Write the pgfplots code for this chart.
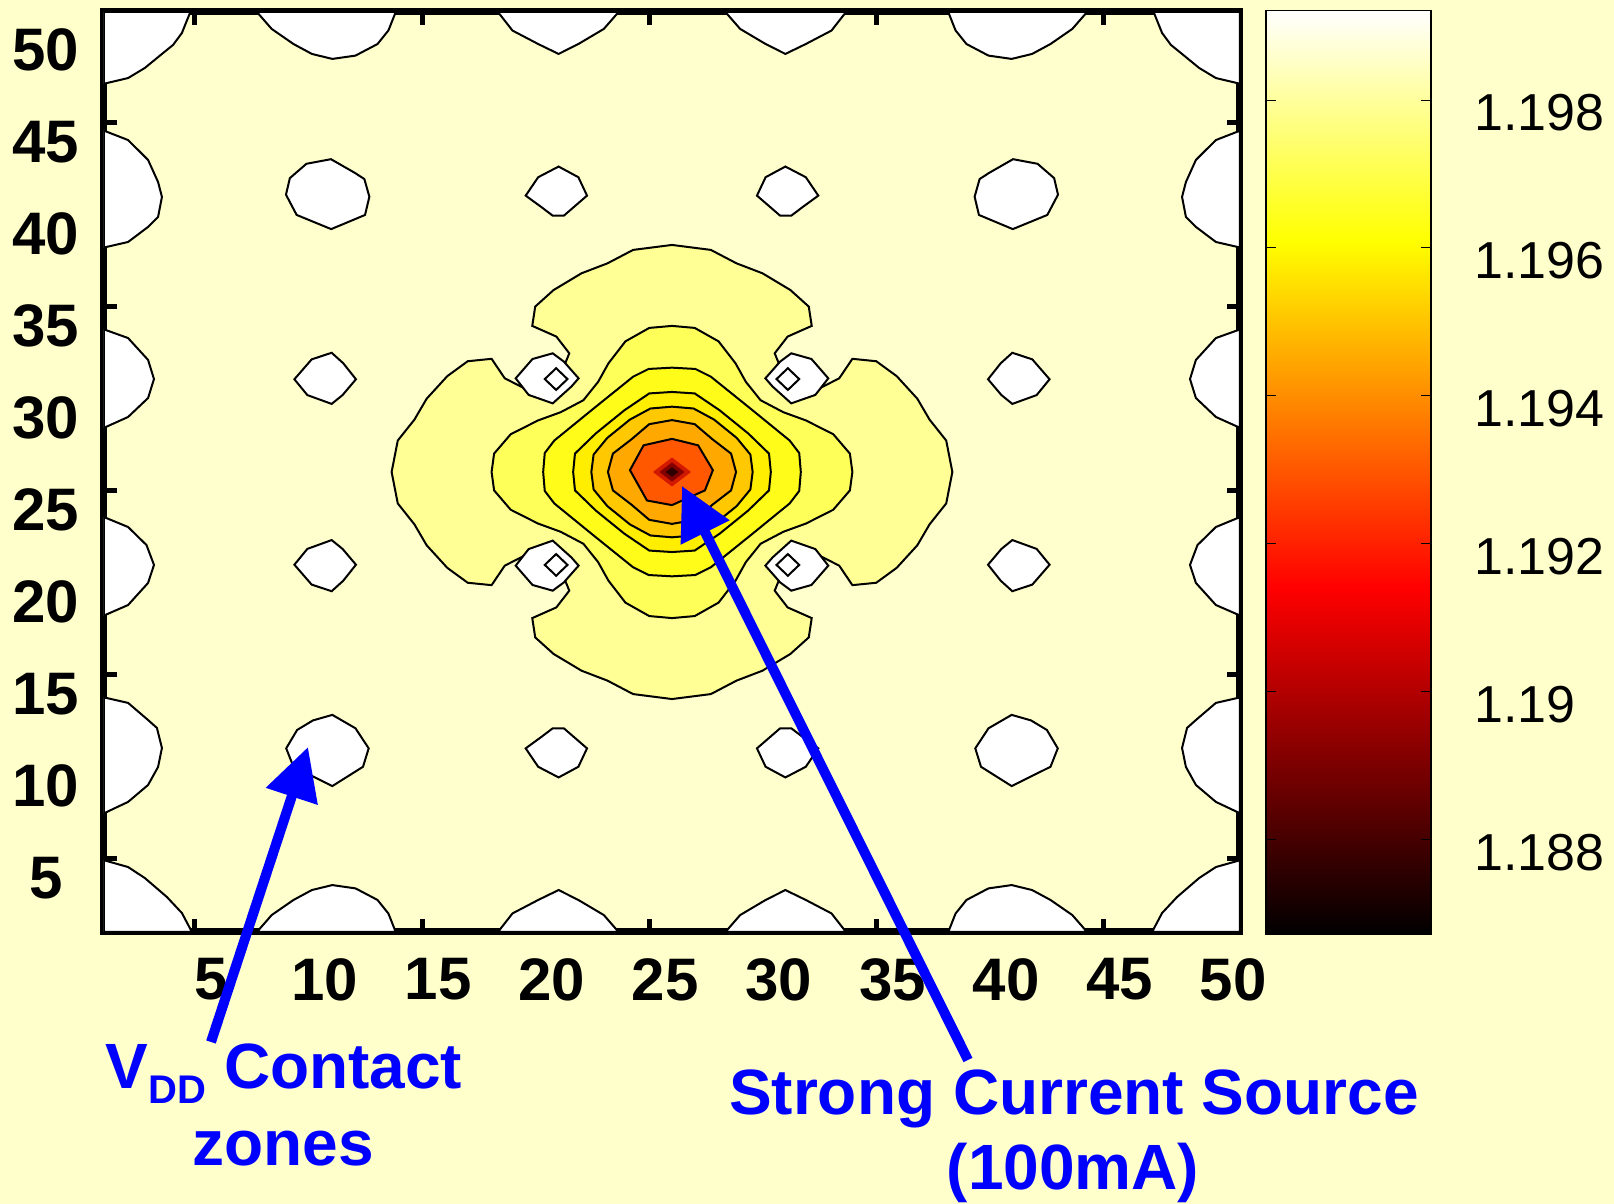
\documentclass[border=0pt]{standalone}
\usepackage{pgfplots}
\pgfplotsset{compat=1.18}
\usepackage{fontspec}
\setmainfont{Liberation Sans}
\usetikzlibrary{arrows.meta}
\definecolor{slidebg}{RGB}{255,255,204}
\definecolor{mainfill}{RGB}{255,255,205}
\definecolor{lvA}{RGB}{255,255,150}
\definecolor{lvB}{RGB}{255,255,90}
\definecolor{lvC}{RGB}{255,252,25}
\definecolor{lvD}{RGB}{255,238,0}
\definecolor{lvE}{RGB}{255,200,0}
\definecolor{lvF}{RGB}{255,168,0}
\definecolor{lvG}{RGB}{255,88,0}
\definecolor{lvH}{RGB}{210,25,0}
\definecolor{lvI}{RGB}{130,0,0}
\definecolor{lvJ}{RGB}{45,0,0}
\definecolor{annblue}{RGB}{0,0,255}
\tikzset{blob/.style={fill=white,draw=black,line width=1pt},
         cnt/.style={draw=black,line width=1pt}}
\begin{document}
\begin{tikzpicture}
\useasboundingbox (-52pt,-136pt) rectangle (755pt,466pt);
\fill[slidebg] (-52pt,-136pt) rectangle (755pt,466pt);
\begin{axis}[
  at={(0pt,0pt)}, anchor=south west,
  scale only axis, width=568pt, height=460pt,
  xmin=1, xmax=51, ymin=1, ymax=51,
  xtick={5,10,...,50}, ytick={5,10,...,50},
  axis background/.style={fill=mainfill},
  axis line style={line width=3.5pt},
  tick align=inside, major tick length=6.5pt,
  major tick style={line width=2.5pt, black},
  tick label style={font=\bfseries\fontsize{30}{30}\selectfont},
  xticklabel style={anchor=north, inner sep=0pt, yshift=-13pt, xshift=8pt},
  yticklabel style={anchor=center, inner sep=0pt, xshift=-29pt, yshift=-9.75pt},
  /pgf/number format/assume math mode=true,
  colormap={mhot}{rgb255(0cm)=(0,0,0); rgb255(3cm)=(255,0,0); rgb255(6cm)=(255,255,0); rgb255(8cm)=(255,255,255)},
  point meta min=1.18672, point meta max=1.19921,
  colorbar,
  colorbar/width=82.5pt,
  colorbar shift/.style={},
  colorbar style={
    at={(parent axis.north east)}, anchor=north west, xshift=13pt, yshift=0.75pt,
    scale only axis, width=82.5pt, height=461.75pt,
    axis background/.style={},
    axis line style={line width=0.6pt},
    xtick=\empty,
    ytick={1.188,1.19,1.192,1.194,1.196,1.198},
    yticklabels={1.188,1.19,1.192,1.194,1.196,1.198},
    yticklabel pos=right, ytick pos=both,
    tick align=inside, major tick length=5pt,
    major tick style={line width=0.4pt, black},
    every tick label/.style={font=\fontsize{26}{26}\selectfont},
    every y tick label/.style={anchor=west, inner sep=0pt, xshift=21.5pt, yshift=-6.5pt},
  },
]
% ---- corner blobs
\addplot[blob] coordinates {(1,47.1) (2.06,47.41) (2.8,47.96) (3.6,48.77) (4.04,49.21) (4.43,49.86) (4.8,51) (1,51)} -- cycle;
\addplot[blob] coordinates {(1,4.9) (2.06,4.53) (2.8,3.93) (3.77,2.9) (4.43,2.03) (4.87,1) (1,1)} -- cycle;
\addplot[blob] coordinates {(51,47.1) (49.94,47.41) (49.2,47.96) (48.4,48.77) (47.96,49.21) (47.57,49.86) (47.2,51) (51,51)} -- cycle;
\addplot[blob] coordinates {(51,4.9) (49.94,4.53) (49.2,3.93) (48.23,2.9) (47.57,2.03) (47.13,1) (51,1)} -- cycle;
% ---- left edge
\addplot[blob] coordinates {(1,44.55) (2.06,44.04) (2.94,42.96) (3.38,41.76) (3.55,40.95) (3.38,39.86) (2.94,39.32) (2.06,38.5) (1,38.2)} -- cycle;
\addplot[blob] coordinates {(1,33.75) (2.06,33.28) (2.94,32.09) (3.2,31.05) (2.94,30.02) (2.06,28.99) (1,28.4)} -- cycle;
\addplot[blob] coordinates {(1,23.55) (2.06,23.01) (2.87,22.03) (3.2,20.95) (2.94,19.97) (2.06,18.77) (1,18.2)} -- cycle;
\addplot[blob] coordinates {(1,13.75) (2.06,13.45) (2.94,12.52) (3.33,12.09) (3.55,11.0) (3.38,9.97) (2.94,8.99) (2.06,8.07) (1,7.45)} -- cycle;
% ---- right edge
\addplot[blob] coordinates {(51,44.55) (49.94,44.04) (49.06,42.96) (48.62,41.76) (48.45,40.95) (48.62,39.86) (49.06,39.32) (49.94,38.5) (51,38.2)} -- cycle;
\addplot[blob] coordinates {(51,33.75) (49.94,33.28) (49.06,32.09) (48.8,31.05) (49.06,30.02) (49.94,28.99) (51,28.4)} -- cycle;
\addplot[blob] coordinates {(51,23.55) (49.94,23.01) (49.13,22.03) (48.8,20.95) (49.06,19.97) (49.94,18.77) (51,18.2)} -- cycle;
\addplot[blob] coordinates {(51,13.75) (49.94,13.45) (49.06,12.52) (48.67,12.09) (48.45,11.0) (48.62,9.97) (49.06,8.99) (49.94,8.07) (51,7.45)} -- cycle;
% ---- bottom edge
\addplot[blob] coordinates {(7.73,1) (8.38,1.92) (9.34,2.74) (10.15,3.28) (11.05,3.55) (12.07,3.37) (13.04,2.74) (13.52,2.0) (13.84,1)} -- cycle;
\addplot[blob] coordinates {(18.34,1) (18.98,2.01) (20.11,2.74) (21.01,3.28) (21.88,2.74) (23.0,1.92) (23.65,1)} -- cycle;
\addplot[blob] coordinates {(28.35,1) (29.0,1.92) (30.12,2.74) (30.99,3.28) (31.89,2.74) (33.02,2.01) (33.66,1)} -- cycle;
\addplot[blob] coordinates {(38.16,1) (38.48,2.0) (38.96,2.74) (39.93,3.37) (40.95,3.55) (41.85,3.28) (42.66,2.74) (43.62,1.92) (44.27,1)} -- cycle;
% ---- top edge
\addplot[blob] coordinates {(7.73,51) (8.38,50.08) (9.34,49.26) (10.15,48.72) (11.05,48.45) (12.07,48.63) (13.04,49.26) (13.52,50.0) (13.84,51)} -- cycle;
\addplot[blob] coordinates {(18.34,51) (18.98,49.99) (20.11,49.26) (21.01,48.72) (21.88,49.26) (23.0,50.08) (23.65,51)} -- cycle;
\addplot[blob] coordinates {(28.35,51) (29.0,50.08) (30.12,49.26) (30.99,48.72) (31.89,49.26) (33.02,49.99) (33.66,51)} -- cycle;
\addplot[blob] coordinates {(38.16,51) (38.48,50.0) (38.96,49.26) (39.93,48.63) (40.95,48.45) (41.85,48.72) (42.66,49.26) (43.62,50.08) (44.27,51)} -- cycle;
% ---- interior large blobs
\addplot[blob] coordinates {(10.99,43.0) (12.05,42.25) (12.46,41.92) (12.68,40.96) (12.49,39.97) (11.0,39.2) (9.48,39.97) (9.01,41.07) (9.18,41.97) (9.91,42.75)} -- cycle;
\addplot[blob] coordinates {(41.01,43.0) (39.95,42.25) (39.54,41.92) (39.32,40.96) (39.51,39.97) (41.0,39.2) (42.52,39.97) (42.99,41.07) (42.82,41.97) (42.09,42.75)} -- cycle;
\addplot[blob] coordinates {(11.05,12.8) (12.07,12.07) (12.65,10.98) (12.4,9.98) (11.05,8.93) (9.34,9.98) (9.02,10.98) (9.5,11.98) (10.2,12.5)} -- cycle;
\addplot[blob] coordinates {(40.95,12.8) (39.93,12.07) (39.35,10.98) (39.6,9.98) (40.95,8.93) (42.66,9.98) (42.98,10.98) (42.5,11.98) (41.8,12.5)} -- cycle;
% ---- interior medium blobs
\addplot[blob] coordinates {(20.75,12.07) (21.24,12.07) (22.26,10.98) (21.88,9.98) (21.01,9.4) (20.11,9.98) (19.56,10.98) (20.27,11.62)} -- cycle;
\addplot[blob] coordinates {(31.25,12.07) (30.76,12.07) (29.74,10.98) (30.12,9.98) (30.99,9.4) (31.89,9.98) (32.44,10.98) (31.73,11.62)} -- cycle;
\addplot[blob] coordinates {(20.75,39.93) (21.24,39.93) (22.26,41.02) (21.88,42.02) (21.01,42.6) (20.11,42.02) (19.56,41.02) (20.27,40.38)} -- cycle;
\addplot[blob] coordinates {(31.25,39.93) (30.76,39.93) (29.74,41.02) (30.12,42.02) (30.99,42.6) (31.89,42.02) (32.44,41.02) (31.73,40.38)} -- cycle;
% ---- interior small blobs
\addplot[blob] coordinates {(11.02,32.48) (11.53,31.91) (12.09,31.04) (11.5,30.18) (11.02,29.7) (9.95,30.18) (9.38,31.04) (10.14,32.12)} -- cycle;
\addplot[blob] coordinates {(11.02,19.52) (11.53,20.09) (12.09,20.96) (11.5,21.82) (11.02,22.3) (9.95,21.82) (9.38,20.96) (10.14,19.88)} -- cycle;
\addplot[blob] coordinates {(40.98,32.48) (40.47,31.91) (39.91,31.04) (40.5,30.18) (40.98,29.7) (42.05,30.18) (42.62,31.04) (41.86,32.12)} -- cycle;
\addplot[blob] coordinates {(40.98,19.52) (40.47,20.09) (39.91,20.96) (40.5,21.82) (40.98,22.3) (42.05,21.82) (42.62,20.96) (41.86,19.88)} -- cycle;
% ---- central cross (pale)
\addplot[cnt, fill=lvA] coordinates {
 (26,38.34) (27.71,38.07) (28.84,37.34) (29.98,36.8) (31.21,35.89) (32.02,34.99) (32.15,33.94) (31.09,33.36) (30.52,32.45) (31,31) (32.45,30.52) (33.36,31.09) (33.94,32.15) (34.99,32.02) (35.89,31.21) (36.8,29.98) (37.34,28.84) (38.07,27.71) (38.34,26)
 (38.07,24.29) (37.34,23.16) (36.8,22.02) (35.89,20.79) (34.99,19.98) (33.94,19.85) (33.36,20.91) (32.45,21.48) (31,21) (30.52,19.55) (31.09,18.64) (32.15,18.06) (32.02,17.01) (31.21,16.11) (29.98,15.2) (28.84,14.66) (27.71,13.93) (26,13.66)
 (24.29,13.93) (23.16,14.66) (22.02,15.2) (20.79,16.11) (19.98,17.01) (19.85,18.06) (20.91,18.64) (21.48,19.55) (21,21) (19.55,21.48) (18.64,20.91) (18.06,19.85) (17.01,19.98) (16.11,20.79) (15.2,22.02) (14.66,23.16) (13.93,24.29) (13.66,26)
 (13.93,27.71) (14.66,28.84) (15.2,29.98) (16.11,31.21) (17.01,32.02) (18.06,32.15) (18.64,31.09) (19.55,30.52) (21,31) (21.48,32.45) (20.91,33.36) (19.85,33.94) (19.98,34.99) (20.79,35.89) (22.02,36.8) (23.16,37.34) (24.29,38.07)} -- cycle;
% ---- level B
\addplot[cnt, fill=lvB] coordinates {
 (26,33.94) (27,33.83) (28.05,33.1) (28.8,31.9) (29.25,30.9) (29.9,29.9) (30.9,29.25) (31.9,28.8) (33.1,28.05) (33.83,27) (33.94,26)
 (33.83,25) (33.1,23.95) (31.9,23.2) (30.9,22.75) (29.9,22.1) (29.25,21.1) (28.8,20.1) (28.05,18.9) (27,18.17) (26,18.06)
 (25,18.17) (23.95,18.9) (23.2,20.1) (22.75,21.1) (22.1,22.1) (21.1,22.75) (20.1,23.2) (18.9,23.95) (18.17,25) (18.06,26)
 (18.17,27) (18.9,28.05) (20.1,28.8) (21.1,29.25) (22.1,29.9) (22.75,30.9) (23.2,31.9) (23.95,33.1) (25,33.83)} -- cycle;
% ---- level C
\addplot[cnt, fill=lvC] coordinates {
 (26,31.67) (27.03,31.6) (27.71,31.18) (29.45,29.45) (31.18,27.71) (31.6,27.03) (31.67,26) (31.6,24.97) (31.18,24.29) (29.45,22.55) (27.71,20.82) (27.03,20.4) (26,20.33) (24.97,20.4) (24.29,20.82) (22.55,22.55) (20.82,24.29) (20.4,24.97) (20.33,26) (20.4,27.03) (20.82,27.71) (22.55,29.45) (24.29,31.18) (24.97,31.6)} -- cycle;
% ---- level D
\addplot[cnt, fill=lvD] coordinates {
 (26,30.35) (27,30.27) (28.1,29.35) (29.35,28.1) (30.27,27) (30.35,26) (30.27,25) (29.35,23.9) (28.1,22.65) (27,21.73) (26,21.65) (25,21.73) (23.9,22.65) (22.65,23.9) (21.73,25) (21.65,26) (21.73,27) (22.65,28.1) (23.9,29.35) (25,30.27)} -- cycle;
% ---- level E
\addplot[cnt, fill=lvE] coordinates {
 (26,29.55) (26.95,29.45) (27.85,28.85) (28.85,27.85) (29.45,26.95) (29.55,26) (29.45,25.05) (28.85,24.15) (27.85,23.15) (26.95,22.55) (26,22.45) (25.05,22.55) (24.15,23.15) (23.15,24.15) (22.55,25.05) (22.45,26) (22.55,26.95) (23.15,27.85) (24.15,28.85) (25.05,29.45)} -- cycle;
% ---- level F
\addplot[cnt, fill=lvF] coordinates {
 (26,28.82) (27,28.6) (27.78,27.78) (28.6,27) (28.82,26) (28.6,25) (27.78,24.22) (27,23.4) (26,23.18) (25,23.4) (24.22,24.22) (23.4,25) (23.18,26) (23.4,27) (24.22,27.78) (25,28.6)} -- cycle;
% ---- level G
\addplot[cnt, fill=lvG] coordinates {
 (26,27.8) (27.15,27.45) (27.8,26.1) (27.45,25.0) (26,24.2) (24.9,24.45) (24.15,26.1) (24.75,27.45)} -- cycle;
% ---- centre
\addplot[draw=none, fill=lvH] coordinates {(25.16,26) (26,26.79) (26.84,26) (26,25.21)} -- cycle;
\addplot[draw=none, fill=lvI] coordinates {(25.45,26) (26,26.52) (26.55,26) (26,25.48)} -- cycle;
\addplot[draw=none, fill=lvJ] coordinates {(25.72,26) (26,26.26) (26.28,26) (26,25.74)} -- cycle;
% ---- blobs next to the centre
\addplot[blob] coordinates {(19.12,31.09) (19.86,32.14) (20.75,32.45) (21.24,32.0) (21.89,31.09) (21.57,30.64) (20.75,29.73) (19.69,30.19)} -- cycle;
\addplot[blob] coordinates {(32.88,31.09) (32.14,32.14) (31.25,32.45) (30.76,32.0) (30.11,31.09) (30.43,30.64) (31.25,29.73) (32.31,30.19)} -- cycle;
\addplot[blob] coordinates {(19.12,20.91) (19.86,19.86) (20.75,19.55) (21.24,20.0) (21.89,20.91) (21.57,21.36) (20.75,22.27) (19.69,21.81)} -- cycle;
\addplot[blob] coordinates {(32.88,20.91) (32.14,19.86) (31.25,19.55) (30.76,20.0) (30.11,20.91) (30.43,21.36) (31.25,22.27) (32.31,21.81)} -- cycle;
\addplot[blob] coordinates {(20.4,31.05) (20.9,31.64) (21.4,31.05) (20.9,30.46)} -- cycle;
\addplot[blob] coordinates {(30.6,31.05) (31.1,31.64) (31.6,31.05) (31.1,30.46)} -- cycle;
\addplot[blob] coordinates {(20.4,20.95) (20.9,21.54) (21.4,20.95) (20.9,20.36)} -- cycle;
\addplot[blob] coordinates {(30.6,20.95) (31.1,21.54) (31.6,20.95) (31.1,20.36)} -- cycle;
\end{axis}
% ---- annotations
\node[anchor=base, text=annblue, font=\bfseries\fontsize{32}{32}\selectfont, inner sep=0pt] at (90pt,-78.5pt)
  {V\raisebox{-7.5pt}{\fontsize{20}{20}\selectfont DD} Contact};
\node[anchor=base, text=annblue, font=\bfseries\fontsize{32}{32}\selectfont, inner sep=0pt] at (89.5pt,-117pt) {zones};
\node[anchor=base, text=annblue, font=\bfseries\fontsize{32}{32}\selectfont, inner sep=0pt] at (485pt,-91.5pt) {Strong Current Source};
\node[anchor=base, text=annblue, font=\bfseries\fontsize{32}{32}\selectfont, inner sep=0pt] at (484.5pt,-129pt) {(100mA)};
\draw[annblue, line width=5pt, -{Triangle[length=26pt,width=26pt]}] (53.5pt,-55pt) -- (102pt,92.5pt);
\draw[annblue, line width=5pt, -{Triangle[length=26pt,width=26pt]}] (432pt,-64pt) -- (289pt,223pt);
\end{tikzpicture}
\end{document}
